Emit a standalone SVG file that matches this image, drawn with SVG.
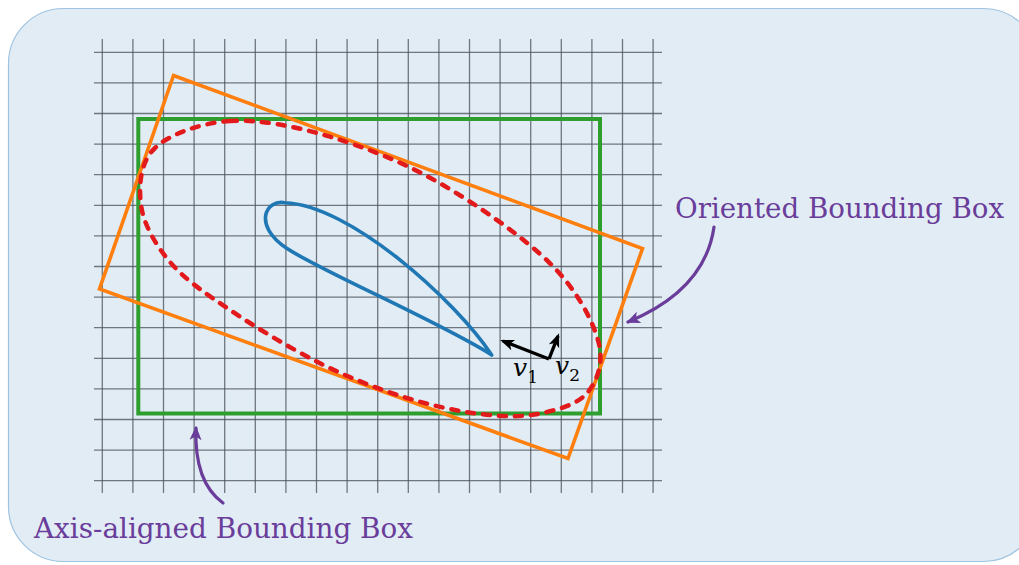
<svg xmlns="http://www.w3.org/2000/svg" width="1019" height="565" viewBox="0 0 1019 565">
<style>
.grid{stroke:#4a4f55;stroke-opacity:0.75;stroke-width:1.3;fill:none}
.lbl{font-family:"DejaVu Serif",serif;font-size:27.5px;fill:#6a3d9a}
.math{font-family:"DejaVu Serif",serif;font-style:italic;fill:#000}
.pa{fill:none;stroke:#6a3d9a;stroke-width:3.2;stroke-linecap:round}
.ba{fill:none;stroke:#000;stroke-width:3.4;stroke-linecap:butt;stroke-linejoin:miter}
</style>
<defs>
<marker id="hp" markerUnits="userSpaceOnUse" markerWidth="16" markerHeight="14" viewBox="0 0 16 14" refX="13" refY="7" orient="auto">
<path d="M15,7 L1,1 L4.5,7 L1,13 Z" fill="#6a3d9a"/>
</marker>
<marker id="hb" markerUnits="userSpaceOnUse" markerWidth="16" markerHeight="14" viewBox="0 0 16 14" refX="12" refY="7" orient="auto">
<path d="M15,7 L1,1.5 L4.5,7 L1,12.5 Z" fill="#000"/>
</marker>
</defs>
<rect id="background" x="8.5" y="8.5" width="1030" height="553" rx="55" ry="55" fill="#e1ecf5" stroke="#9fc3e0" stroke-width="1.2"/>
<g id="grid" class="grid">
<path d="M102.3,39V493M132.9,39V493M163.5,39V493M194.1,39V493M224.7,39V493M255.3,39V493M285.9,39V493M316.5,39V493M347.1,39V493M377.7,39V493M408.3,39V493M438.9,39V493M469.5,39V493M500.1,39V493M530.7,39V493M561.3,39V493M591.9,39V493M622.5,39V493M653.1,39V493"/>
<path d="M94,52.3H662M94,82.9H662M94,113.5H662M94,144.1H662M94,174.7H662M94,205.3H662M94,235.9H662M94,266.5H662M94,297.1H662M94,327.7H662M94,358.3H662M94,388.9H662M94,419.5H662M94,450.1H662M94,480.7H662"/>
</g>
<g id="aabb"><rect x="138.3" y="119" width="461.7" height="294.5" fill="none" stroke="#2e9e2e" stroke-width="4"/></g>
<g id="obb"><polygon points="173.5,75.5 642.5,248.5 568,458.5 99.5,289" fill="none" stroke="#ff7f0e" stroke-width="3.6"/></g>
<g id="hull"><path d="M230,121 C259.2,119.1 295,126.3 330,136.7 C365,147.1 403.3,162.2 440,183.3 C476.7,204.4 523.7,237.2 550,263.3 C576.3,289.4 591.7,318.5 598,340 C604.3,361.5 597.7,379.75 588,392 C578.3,404.25 558,409.8 540,413.5 C522,417.2 502.8,416.8 480,414 C457.2,411.2 429.7,405.2 403,396.7 C376.3,388.25 348.8,377.75 320,363.3 C291.2,348.85 255,326.9 230,310 C205,293.1 184.8,279.5 170,262 C155.2,244.5 143.5,224 141,205 C138.5,186 140.2,162 155,148 C169.8,134 200.8,122.9 230,121 Z" fill="none" stroke="#e31a1c" stroke-width="4.5" stroke-linecap="round" stroke-dasharray="7 9"/></g>
<g id="airfoil"><path d="M491.7,355 C455,300 350,205 285,202.7 C266,199 252,225 286.7,248.3 C320,270.7 440,322 491.7,355 Z" fill="none" stroke="#1f77b4" stroke-width="3.6" stroke-linejoin="round"/></g>
<g id="connectors">
<path class="ba" d="M549,359 L503,341" marker-end="url(#hb)"/>
<path class="ba" d="M549,359 L558,336" marker-end="url(#hb)"/>
<path class="pa" d="M714,227 Q705,290 628,322" marker-end="url(#hp)"/>
<path class="pa" d="M223,503 Q194,482 196,428" marker-end="url(#hp)"/>
</g>
<g id="v1"><text class="math" x="513" y="376" font-size="25">v<tspan font-style="normal" font-size="17" dy="7">1</tspan></text></g>
<g id="v2"><text class="math" x="555" y="374" font-size="25">v<tspan font-style="normal" font-size="17" dy="7">2</tspan></text></g>
<g id="label-obb"><text class="lbl" x="675" y="218" textLength="329" lengthAdjust="spacingAndGlyphs">Oriented Bounding Box</text></g>
<g id="label-aabb"><text class="lbl" x="34" y="538" textLength="379" lengthAdjust="spacingAndGlyphs">Axis-aligned Bounding Box</text></g>
</svg>
